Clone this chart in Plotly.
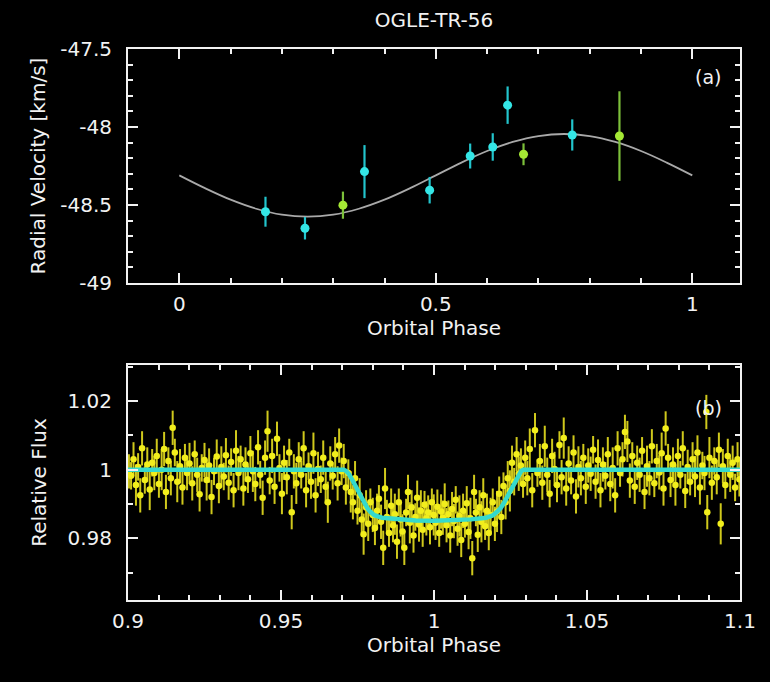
import plotly.graph_objects as go
from plotly.subplots import make_subplots

# ---------------- Panel (a): radial velocities ----------------
rv_phase_a = [0.168, 0.245, 0.361, 0.488, 0.567, 0.611, 0.640, 0.766]
rv_val_a = [-48.543, -48.649, -48.286, -48.405, -48.186, -48.128, -47.860, -48.051]
rv_err_a = [0.096, 0.072, 0.170, 0.085, 0.080, 0.088, 0.120, 0.100]

rv_phase_b = [0.319, 0.671, 0.858]
rv_val_b = [-48.501, -48.175, -48.058]
rv_err_b = [0.087, 0.070, 0.287]

orbit_phase = [0.0, 0.05, 0.1, 0.15, 0.2, 0.25, 0.3, 0.35, 0.4, 0.45, 0.5,
               0.55, 0.6, 0.65, 0.7, 0.75, 0.8, 0.85, 0.9, 0.95, 1.0]
orbit_rv = [-48.310, -48.392, -48.466, -48.524, -48.562, -48.575, -48.562,
            -48.524, -48.466, -48.392, -48.310, -48.228, -48.154, -48.096,
            -48.058, -48.045, -48.058, -48.096, -48.154, -48.228, -48.310]

# ---------------- Panel (b): photometry ----------------
lc_phase = [
    0.9003, 0.9010, 0.9018, 0.9026, 0.9033, 0.9040, 0.9046, 0.9055, 0.9063, 0.9071,
    0.9079, 0.9086, 0.9094, 0.9101, 0.9110, 0.9118, 0.9124, 0.9132, 0.9140, 0.9146,
    0.9153, 0.9161, 0.9170, 0.9178, 0.9186, 0.9193, 0.9201, 0.9210, 0.9218, 0.9226,
    0.9234, 0.9241, 0.9250, 0.9257, 0.9265, 0.9273, 0.9281, 0.9290, 0.9297, 0.9305,
    0.9313, 0.9320, 0.9329, 0.9337, 0.9345, 0.9353, 0.9361, 0.9368, 0.9377, 0.9384,
    0.9392, 0.9400, 0.9408, 0.9416, 0.9425, 0.9432, 0.9440, 0.9448, 0.9456, 0.9463,
    0.9471, 0.9479, 0.9487, 0.9495, 0.9503, 0.9510, 0.9519, 0.9527, 0.9535, 0.9542,
    0.9550, 0.9558, 0.9566, 0.9574, 0.9582, 0.9590, 0.9598, 0.9606, 0.9613, 0.9621,
    0.9630, 0.9638, 0.9646, 0.9653, 0.9661, 0.9669, 0.9677, 0.9685, 0.9690, 0.9698,
    0.9705, 0.9712, 0.9720, 0.9728, 0.9735, 0.9742, 0.9750, 0.9757, 0.9764, 0.9770,
    0.9778, 0.9785, 0.9792, 0.9800, 0.9807,
    0.9814, 0.9820, 0.9827, 0.9834, 0.9840, 0.9846, 0.9853, 0.9860, 0.9866, 0.9872,
    0.9879, 0.9885, 0.9891, 0.9897, 0.9903, 0.9909, 0.9915, 0.9921, 0.9927, 0.9933,
    0.9939, 0.9945, 0.9951, 0.9957, 0.9963, 0.9969, 0.9975, 0.9981, 0.9987, 0.9993,
    0.9999, 1.0005, 1.0011, 1.0017, 1.0023, 1.0029, 1.0035, 1.0041, 1.0047, 1.0053,
    1.0059, 1.0065, 1.0071, 1.0077, 1.0083, 1.0089, 1.0095, 1.0101, 1.0107, 1.0113,
    1.0119, 1.0125, 1.0131, 1.0137, 1.0143, 1.0149, 1.0155, 1.0161, 1.0167, 1.0173,
    1.0179, 1.0185,
    1.0192, 1.0199, 1.0206, 1.0213, 1.0220, 1.0227, 1.0234, 1.0241, 1.0248, 1.0255,
    1.0262, 1.0270, 1.0277, 1.0284, 1.0291, 1.0298,
    1.0305, 1.0313, 1.0321, 1.0330, 1.0338, 1.0346, 1.0354, 1.0362, 1.0370, 1.0378,
    1.0386, 1.0394, 1.0402, 1.0410, 1.0417, 1.0424, 1.0432, 1.0440, 1.0448, 1.0456,
    1.0464, 1.0472, 1.0480, 1.0488, 1.0496, 1.0504, 1.0512, 1.0520, 1.0528, 1.0536,
    1.0544, 1.0552, 1.0560, 1.0568, 1.0576, 1.0584, 1.0592, 1.0600, 1.0608, 1.0616,
    1.0624, 1.0632, 1.0640, 1.0648, 1.0656, 1.0664, 1.0672, 1.0680, 1.0688, 1.0696,
    1.0704, 1.0712, 1.0720, 1.0728, 1.0736, 1.0744, 1.0750, 1.0757, 1.0765, 1.0773,
    1.0781, 1.0789, 1.0797, 1.0805, 1.0813, 1.0821, 1.0829, 1.0837, 1.0845, 1.0853,
    1.0861, 1.0869, 1.0877, 1.0884, 1.0890, 1.0893, 1.0900, 1.0908, 1.0916, 1.0924,
    1.0931, 1.0937, 1.0944, 1.0952, 1.0960, 1.0968, 1.0976, 1.0984, 1.0992, 1.0998,
]
lc_flux = [
    0.9995, 0.9982, 1.0030, 0.9955, 1.0008, 0.9925, 1.0062, 0.9970, 1.0015, 0.9942,
    1.0020, 0.9990, 1.0040, 0.9958, 1.0000, 1.0060, 0.9935, 1.0025, 0.9975, 1.0122,
    1.0050, 0.9965, 1.0010, 0.9948, 1.0035, 0.9990, 1.0018, 0.9960, 1.0045, 0.9985,
    0.9928, 1.0005, 1.0028, 0.9970, 1.0012, 0.9920, 0.9995, 1.0038, 0.9952, 1.0008,
    0.9980, 1.0042, 0.9962, 1.0022, 0.9940, 1.0055, 0.9990, 1.0030, 0.9945, 1.0015,
    0.9972, 1.0048, 0.9995, 0.9958, 1.0065, 0.9985, 0.9918, 1.0035, 1.0112, 0.9968,
    1.0040, 0.9950, 1.0090, 1.0005, 0.9930, 1.0020, 0.9978, 1.0050, 0.9876, 0.9995,
    0.9960, 1.0030, 0.9985, 1.0062, 0.9940, 1.0010, 0.9965, 1.0048, 0.9925, 1.0002,
    0.9972, 1.0035, 0.9950, 0.9905, 1.0018, 0.9982, 1.0045, 0.9960, 1.0070, 0.9995,
    1.0025, 0.9948, 0.9990, 0.9935, 0.9905, 0.9975, 0.9880, 0.9925, 0.9855, 0.9812,
    0.9890, 0.9842, 0.9905, 0.9868, 0.9830,
    0.9880, 0.9915, 0.9848, 0.9772, 0.9945, 0.9862, 0.9815, 0.9895, 0.9838, 0.9870,
    0.9790, 0.9905, 0.9855, 0.9820, 0.9772, 0.9875, 0.9935, 0.9845, 0.9890, 0.9808,
    0.9862, 0.9918, 0.9840, 0.9880, 0.9825, 0.9898, 0.9858, 0.9875, 0.9832, 0.9905,
    0.9868, 0.9845, 0.9892, 0.9815, 0.9878, 0.9860, 0.9900, 0.9838, 0.9870, 0.9808,
    0.9885, 0.9850, 0.9912, 0.9828, 0.9865, 0.9795, 0.9880, 0.9842, 0.9902, 0.9818,
    0.9858, 0.9742, 0.9935, 0.9875, 0.9810, 0.9890, 0.9848, 0.9925, 0.9835, 0.9880,
    0.9815, 0.9868,
    0.9905, 0.9842, 0.9878, 0.9930, 0.9862, 0.9952, 0.9905, 0.9975, 0.9938, 1.0020,
    0.9965, 1.0045, 0.9988, 1.0012, 0.9958, 1.0035,
    0.9975, 1.0060, 0.9940, 1.0115, 0.9990, 1.0025, 0.9962, 1.0068, 0.9985, 0.9930,
    1.0040, 1.0002, 0.9955, 1.0072, 0.9978, 1.0092, 0.9945, 1.0018, 0.9968, 1.0050,
    0.9922, 1.0008, 0.9975, 1.0035, 0.9950, 1.0012, 0.9988, 1.0058, 0.9965, 1.0028,
    0.9940, 1.0015, 0.9982, 1.0045, 0.9958, 1.0005, 0.9925, 1.0062, 0.9990, 1.0030,
    1.0110, 1.0082, 0.9968, 1.0040, 0.9950, 1.0020, 0.9985, 1.0055, 0.9935, 1.0010,
    0.9975, 1.0068, 0.9960, 1.0025, 0.9992, 1.0048, 0.9945, 1.0120, 1.0035, 0.9970,
    1.0015, 0.9955, 1.0040, 0.9985, 1.0062, 0.9938, 1.0008, 0.9965, 1.0030, 0.9980,
    1.0050, 0.9948, 1.0012, 0.9990, 1.0168, 0.9876, 1.0035, 0.9962, 1.0025, 0.9978,
    1.0058, 0.9842, 1.0010, 0.9955, 1.0040, 0.9985, 1.0020, 0.9948, 1.0030, 0.9972,
]
lc_err = [
    0.005, 0.004, 0.005, 0.006, 0.004, 0.005, 0.005, 0.004, 0.005, 0.006,
    0.004, 0.005, 0.005, 0.004, 0.006, 0.005, 0.005, 0.004, 0.005, 0.005,
    0.004, 0.006, 0.005, 0.005, 0.004, 0.005, 0.006, 0.005, 0.004, 0.005,
    0.005, 0.004, 0.005, 0.006, 0.005, 0.005, 0.004, 0.005, 0.005, 0.006,
    0.004, 0.005, 0.005, 0.004, 0.005, 0.006, 0.005, 0.004, 0.005, 0.005,
    0.004, 0.005, 0.006, 0.005, 0.005, 0.004, 0.005, 0.005, 0.006, 0.004,
    0.005, 0.005, 0.005, 0.004, 0.006, 0.005, 0.005, 0.004, 0.005, 0.005,
    0.006, 0.005, 0.004, 0.005, 0.005, 0.004, 0.005, 0.006, 0.005, 0.005,
    0.004, 0.005, 0.005, 0.006, 0.005, 0.004, 0.005, 0.005, 0.005, 0.004,
    0.005, 0.005, 0.004, 0.006, 0.005, 0.005, 0.004, 0.005, 0.005, 0.006,
    0.005, 0.005, 0.004, 0.005, 0.005,
    0.005, 0.004, 0.005, 0.005, 0.006, 0.005, 0.004, 0.005, 0.005, 0.006,
    0.005, 0.004, 0.005, 0.005, 0.005, 0.004, 0.005, 0.006, 0.005, 0.005,
    0.004, 0.005, 0.005, 0.006, 0.005, 0.004, 0.005, 0.005, 0.005, 0.004,
    0.006, 0.005, 0.005, 0.004, 0.005, 0.005, 0.006, 0.005, 0.004, 0.005,
    0.005, 0.005, 0.004, 0.005, 0.006, 0.005, 0.005, 0.004, 0.005, 0.005,
    0.006, 0.005, 0.005, 0.004, 0.005, 0.005, 0.006, 0.005, 0.004, 0.005,
    0.005, 0.005,
    0.004, 0.005, 0.006, 0.005, 0.005, 0.004, 0.005, 0.005, 0.006, 0.005,
    0.004, 0.005, 0.005, 0.005, 0.004, 0.005,
    0.005, 0.006, 0.005, 0.005, 0.004, 0.005, 0.005, 0.006, 0.005, 0.004,
    0.005, 0.005, 0.005, 0.004, 0.005, 0.006, 0.005, 0.005, 0.004, 0.005,
    0.005, 0.006, 0.005, 0.004, 0.005, 0.005, 0.005, 0.004, 0.005, 0.006,
    0.005, 0.005, 0.004, 0.005, 0.005, 0.006, 0.005, 0.005, 0.004, 0.005,
    0.005, 0.006, 0.005, 0.004, 0.005, 0.005, 0.005, 0.004, 0.005, 0.006,
    0.005, 0.005, 0.004, 0.005, 0.005, 0.006, 0.005, 0.005, 0.004, 0.005,
    0.005, 0.006, 0.005, 0.004, 0.005, 0.005, 0.005, 0.004, 0.005, 0.006,
    0.005, 0.005, 0.004, 0.005, 0.005, 0.005, 0.006, 0.005, 0.004, 0.005,
    0.005, 0.006, 0.005, 0.004, 0.005, 0.005, 0.005, 0.004, 0.005, 0.005,
]

model_phase = [0.900, 0.9705, 0.9713, 0.9722, 0.9732, 0.9742, 0.9752, 0.9762,
               0.9772, 0.9782, 0.9792, 0.9805, 0.9830, 0.9880, 0.9940, 1.0000,
               1.0060, 1.0120, 1.0170, 1.0193, 1.0206, 1.0218, 1.0228, 1.0238,
               1.0248, 1.0258, 1.0268, 1.0277, 1.0285, 1.0293, 1.1000]
model_flux = [1.0000, 1.0000, 0.9996, 0.9987, 0.9972, 0.9955, 0.9937, 0.9919,
              0.9902, 0.9888, 0.9877, 0.9867, 0.9860, 0.9855, 0.9852, 0.9851,
              0.9852, 0.9855, 0.9860, 0.9867, 0.9877, 0.9888, 0.9902, 0.9919,
              0.9937, 0.9955, 0.9972, 0.9987, 0.9996, 1.0000, 1.0000]

# tick labels
a_xticks = [0, 0.5, 1]
a_xlabels = ["0", "0.5", "1"]
a_yticks = [-49, -48.5, -48, -47.5]
a_ylabels = ["-49", "-48.5", "-48", "-47.5"]
b_xticks = [0.9, 0.95, 1.0, 1.05, 1.1]
b_xlabels = ["0.9", "0.95", "1", "1.05", "1.1"]
b_yticks = [0.98, 1.0, 1.02]
b_ylabels = ["0.98", "1", "1.02"]

FONT = "DejaVu Sans"
WHITE = "#f2f2f2"

fig = make_subplots(rows=2, cols=1, vertical_spacing=0.0)

fig.add_trace(go.Scatter(x=orbit_phase, y=orbit_rv, mode="lines", line_shape="spline",
                         line=dict(color="#a9a9a9", width=1.8), showlegend=False,
                         hoverinfo="skip"), row=1, col=1)
fig.add_trace(go.Scatter(x=rv_phase_a, y=rv_val_a, mode="markers",
                         marker=dict(color="#34e6e6", size=9),
                         error_y=dict(type="data", array=rv_err_a, color="#22c4cc",
                                      thickness=2.2, width=0),
                         showlegend=False), row=1, col=1)
fig.add_trace(go.Scatter(x=rv_phase_b, y=rv_val_b, mode="markers",
                         marker=dict(color="#a4e834", size=9),
                         error_y=dict(type="data", array=rv_err_b, color="#7cc03a",
                                      thickness=2.2, width=0),
                         showlegend=False), row=1, col=1)

fig.add_trace(go.Scatter(x=lc_phase, y=lc_flux, mode="markers",
                         marker=dict(color="#f2ee1c", size=6.5),
                         error_y=dict(type="data", array=lc_err, color="#cfc81c",
                                      thickness=2, width=0),
                         showlegend=False), row=2, col=1)
fig.add_trace(go.Scatter(x=model_phase, y=model_flux, mode="lines",
                         line=dict(color="#35d9cc", width=4.5), showlegend=False,
                         hoverinfo="skip"), row=2, col=1)

axis_common = dict(showgrid=False, zeroline=False, showline=True, linecolor=WHITE,
                   linewidth=2, mirror="allticks", ticks="inside", ticklen=10,
                   tickwidth=1.5, tickcolor=WHITE,
                   tickfont=dict(family=FONT, size=20, color=WHITE))

fig.update_xaxes(axis_common, row=1, col=1, range=[-0.1, 1.093],
                 tickmode="array", tickvals=a_xticks, ticktext=a_xlabels,
                 ticklabelstandoff=2,
                 minor=dict(dtick=0.1, tick0=0, ticks="inside", ticklen=5,
                            tickcolor=WHITE, tickwidth=1.5),
                 title=dict(text="Orbital Phase", font=dict(family=FONT, size=20, color=WHITE),
                            standoff=4))
fig.update_yaxes(axis_common, row=1, col=1, range=[-49, -47.5],
                 tickmode="array", tickvals=a_yticks, ticktext=a_ylabels,
                 ticklabelstandoff=10,
                 minor=dict(dtick=0.1, tick0=-49, ticks="inside", ticklen=5,
                            tickcolor=WHITE, tickwidth=1.5),
                 title=dict(text="Radial Velocity [km/s]",
                            font=dict(family=FONT, size=20, color=WHITE), standoff=9))
fig.update_xaxes(axis_common, row=2, col=1, range=[0.9, 1.1],
                 tickmode="array", tickvals=b_xticks, ticktext=b_xlabels,
                 ticklabelstandoff=2,
                 minor=dict(dtick=0.01, tick0=0.9, ticks="inside", ticklen=5,
                            tickcolor=WHITE, tickwidth=1.5),
                 title=dict(text="Orbital Phase", font=dict(family=FONT, size=20, color=WHITE),
                            standoff=4))
fig.update_yaxes(axis_common, row=2, col=1, range=[0.962, 1.0305],
                 tickmode="array", tickvals=b_yticks, ticktext=b_ylabels,
                 ticklabelstandoff=10,
                 minor=dict(dtick=0.01, tick0=0.96, ticks="inside", ticklen=5,
                            tickcolor=WHITE, tickwidth=1.5),
                 title=dict(text="Relative Flux", font=dict(family=FONT, size=20, color=WHITE),
                            standoff=15))

fig.update_layout(
    xaxis=dict(domain=[0, 1]),
    yaxis=dict(domain=[0.5753, 1.0]),
    xaxis2=dict(domain=[0, 1]),
    yaxis2=dict(domain=[0.0, 0.4265]),
    width=770, height=682,
    margin=dict(l=128, r=30, t=49, b=82),
    paper_bgcolor="black", plot_bgcolor="black",
    title=dict(text="OGLE-TR-56", x=0.5, xref="paper", y=1 - 20 / 682, yref="container",
               xanchor="center", yanchor="middle",
               font=dict(family=FONT, size=20, color=WHITE)),
    annotations=[
        dict(text="(a)", x=0.948, y=0.9492, xref="paper", yref="paper", showarrow=False,
             xanchor="center", yanchor="middle",
             font=dict(family=FONT, size=19, color=WHITE)),
        dict(text="(b)", x=0.948, y=0.3485, xref="paper", yref="paper", showarrow=False,
             xanchor="center", yanchor="middle",
             font=dict(family=FONT, size=19, color=WHITE)),
    ],
)

fig.write_html("out.html", config={"displayModeBar": False},
               post_script="document.body.style.margin='0';"
                           "document.body.style.background='black';")
